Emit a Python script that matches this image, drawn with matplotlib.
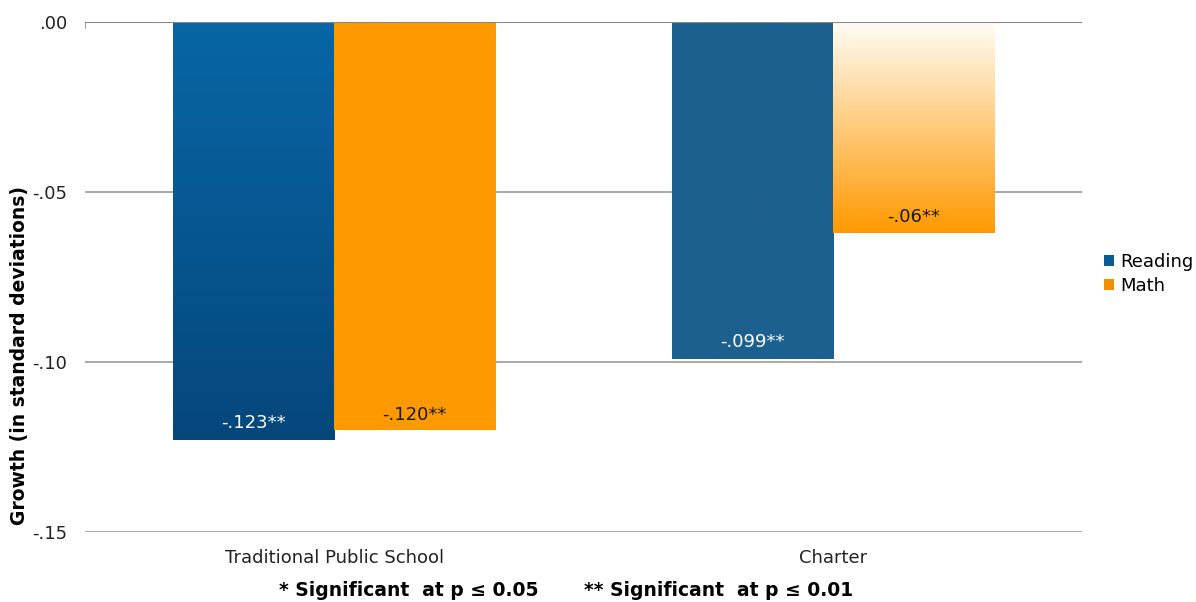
import numpy as np
import matplotlib
matplotlib.use("Agg")
import matplotlib.pyplot as plt
from matplotlib.colors import LinearSegmentedColormap
from matplotlib.patches import Patch

categories = ["Traditional Public School", "Charter"]
series = ["Reading", "Math"]
reading = [-0.123, -0.099]
math_vals = [-0.120, -0.062]
reading_labels = ["-.123**", "-.099**"]
math_labels = ["-.120**", "-.06**"]
yticks = [0.0, -0.05, -0.10, -0.15]
ytick_labels = [".00", "-.05", "-.10", "-.15"]
footnote = "* Significant  at p \u2264 0.05       ** Significant  at p \u2264 0.01"

plt.rcParams['font.family'] = ['DejaVu Sans']

fig = plt.figure(figsize=(11.96, 6.02), dpi=100)
ax = fig.add_axes([0.0711, 0.1163, 0.9047 - 0.0711, 0.9635 - 0.1163])

x = np.arange(len(categories))
w = 0.323

# fill styles: (top color, bottom color) per bar
reading_fills = [("#0866a6", "#05477b"), ("#1c6090", "#1c6090")]
math_fills = [("#ff9900", "#ff9900"), ("#fffcf6", "#ff9900")]

def grad_bar(xc, val, top, bottom):
    bars = ax.bar(xc, val, width=w, color="none", edgecolor="none", zorder=3)
    b = bars[0]
    cmap = LinearSegmentedColormap.from_list("g", [top, bottom])
    grad = np.linspace(0, 1, 256).reshape(-1, 1)
    im = ax.imshow(grad, cmap=cmap, aspect="auto",
                   extent=[b.get_x(), b.get_x() + b.get_width(), val, 0],
                   zorder=3, interpolation="bilinear")
    im.set_clip_path(b)
    return b

for i in range(len(categories)):
    grad_bar(x[i] - w / 2, reading[i], *reading_fills[i])
    grad_bar(x[i] + w / 2, math_vals[i], *math_fills[i])
    ax.text(x[i] - w / 2, reading[i] + 0.005, reading_labels[i], ha="center", va="center",
            color="white", fontsize=13, zorder=5)
    ax.text(x[i] + w / 2, math_vals[i] + 0.0045, math_labels[i], ha="center", va="center",
            color="#1a1a1a", fontsize=13, zorder=5)

ax.set_xlim(-0.5, 1.5)
ax.set_ylim(-0.15, 0.0)
ax.set_yticks(yticks)
ax.set_yticklabels(ytick_labels, fontsize=13, color="#222222")
ax.set_xticks(x)
ax.set_xticklabels(categories, fontsize=13, color="#222222")
ax.tick_params(axis="x", length=0, pad=12)
ax.tick_params(axis="y", length=0, pad=13)
for s in ax.spines.values():
    s.set_visible(False)
ax.grid(axis="y", color="#999999", linewidth=1.2, zorder=0)
ax.set_axisbelow(True)
ax.axhline(0, color="#888888", linewidth=1.5, zorder=4)
ax.axvline(-0.5, ymin=0.988, ymax=1.0, color="#888888", linewidth=1.2)

ax.set_ylabel("Growth (in standard deviations)", fontsize=13.5, fontweight="bold")
ax.yaxis.set_label_coords(-0.056, 0.347)

handles = [Patch(facecolor="#0a5a96", edgecolor="none"), Patch(facecolor="#f29000", edgecolor="none")]
fig.legend(handles, series, loc="center left", bbox_to_anchor=(0.923, 0.545), frameon=False,
           fontsize=13, handlelength=0.55, handleheight=0.55, handletextpad=0.35, labelspacing=0.3,
           borderpad=0, borderaxespad=0)

fig.text(0.473, 0.004, footnote, ha="center", va="bottom", fontsize=13.5, fontweight="bold")

fig.savefig("out.png", dpi=100)
